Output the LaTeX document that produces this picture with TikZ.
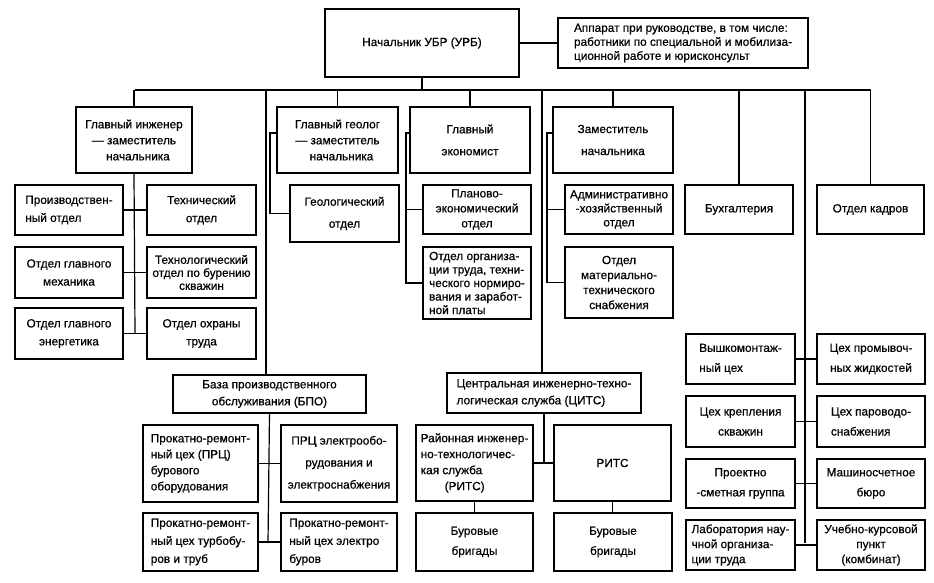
\documentclass[tikz,border=0pt]{standalone}
\usepackage{fontspec}
\setmainfont{Liberation Sans}[FakeBold=0.6]
\newcommand\fs[1]{\fontsize{11.8}{#1}\selectfont}
\tikzset{
  box/.style={draw, line width=1.4pt, inner sep=1pt, align=center,
    font=\fs{14}},
  lft/.style={align=left},
  conn/.style={line width=1.2pt}
}
\newcommand\bx[7][]{\node[box,#1,minimum width={#5-#3},minimum height={#6-#4}] (#2) at ({(#3+#5)/2},{(#4+#6)/2}) {#7};}
\begin{document}
\begin{tikzpicture}[x=1pt,y=-1pt]
\useasboundingbox[fill=white] (0,0) rectangle (934,582);
% top
\bx{top}{325}{9}{519}{77}{Начальник УБР (УРБ)}
\bx[lft]{ap}{558}{18}{808}{68}{Аппарат при руководстве, в том числе:\\ работники по специальной и мобилиза-\\ционной работе и юрисконсульт}
% level 2
\bx[font=\fs{16}]{gi}{76}{107}{192}{173}{Главный инженер\\— заместитель\\\hspace*{8pt}начальника}
\bx[font=\fs{16}]{gg}{277}{107}{398}{173}{Главный геолог\\— заместитель\\\hspace*{8pt}начальника}
\bx[font=\fs{22}]{ec}{410}{107}{530}{173}{Главный\\экономист}
\bx[font=\fs{22}]{zm}{553}{107}{673}{173}{Заместитель\\начальника}
% left cluster
\bx[lft,font=\fs{18}]{po}{15}{185}{123}{235}{Производствен-\\ный отдел}
\bx[font=\fs{18}]{to}{147}{185}{256}{235}{Технический\\отдел}
\bx[font=\fs{18}]{om}{15}{247}{123}{298}{Отдел главного\\механика}
\bx[font=\fs{13}]{tb}{147}{247}{256}{298}{Технологический\\отдел по бурению\\скважин}
\bx[font=\fs{18}]{oe}{15}{308}{123}{359}{Отдел главного\\энергетика}
\bx[font=\fs{18}]{ot}{147}{308}{256}{359}{Отдел охраны\\труда}
% geolog / econ / zam subordinates
\bx[font=\fs{22}]{geo}{290}{185}{399}{242}{Геологический\\отдел}
\bx[font=\fs{15}]{pe}{423}{185}{531}{234}{Планово-\\экономический\\отдел}
\bx[lft,font=\fs{13.5}]{oo}{423}{247}{531}{319}{Отдел организа-\\ции труда, техни-\\ческого нормиро-\\вания и заработ-\\ной платы}
\bx[font=\fs{14}]{ah}{565}{185}{673}{234}{Административно\\-хозяйственный\\отдел}
\bx[font=\fs{15}]{mt}{565}{247}{673}{318}{Отдел\\материально-\\технического\\снабжения}
\bx{bh}{685}{185}{793}{234}{Бухгалтерия}
\bx{kd}{817}{185}{924}{234}{Отдел кадров}
% BPO cluster
\bx[font=\fs{17}]{bpo}{173}{375}{366}{413}{База производственного\\обслуживания (БПО)}
\bx[lft,font=\fs{16}]{p1}{143}{425}{258}{502}{Прокатно-ремонт-\\ный цех (ПРЦ)\\бурового\\оборудования}
\bx[font=\fs{22}]{p2}{281}{425}{397}{502}{ПРЦ электрообо-\\рудования и\\электроснабжения}
\bx[lft,font=\fs{18}]{p3}{143}{513}{258}{571}{Прокатно-ремонт-\\ный цех турбобу-\\ров и труб}
\bx[lft,font=\fs{18}]{p4}{281}{513}{397}{571}{Прокатно-ремонт-\\ный цех электро\\буров}
% CITS cluster
\bx[lft,font=\fs{17}]{cits}{447}{373}{641}{413}{Центральная инженерно-техно-\\логическая служба (ЦИТС)}
\bx[lft,font=\fs{16}]{r1}{416}{425}{533}{501}{Районная инженер-\\но-технологичес-\\кая служба\\\hspace*{24pt}(РИТС)}
\bx{r2}{554}{425}{671}{501}{РИТС}
\bx[font=\fs{20}]{b1}{416}{513}{533}{571}{Буровые\\бригады}
\bx[font=\fs{20}]{b2}{554}{513}{672}{571}{Буровые\\бригады}
% right cluster
\bx[lft,font=\fs{20}]{vm}{686}{334}{795}{384}{Вышкомонтаж-\\ный цех}
\bx[font=\fs{20}]{cp}{817}{334}{925}{384}{Цех промывоч-\\ных жидкостей}
\bx[font=\fs{20}]{ck}{686}{396}{795}{447}{Цех крепления\\скважин}
\bx[lft,font=\fs{20}]{cs}{817}{396}{925}{447}{Цех пароводо-\\снабжения}
\bx[font=\fs{20}]{ps}{686}{459}{795}{508}{Проектно\\-сметная группа}
\bx[font=\fs{20}]{mb}{817}{459}{925}{508}{Машиносчетное\\бюро}
\bx[lft,font=\fs{15}]{lb}{686}{520}{795}{570}{Лаборатория нау-\\чной организа-\\ции труда}
\bx[font=\fs{15}]{uk}{817}{520}{925}{570}{Учебно-курсовой\\пункт\\(комбинат)}
% coordinates
\coordinate (busL) at (135,90);
\coordinate (busR) at (871,90);
\coordinate (giE) at (135,333);
\coordinate (f1) at (270,133);
\coordinate (f2) at (406,133);
\coordinate (f3) at (547,133);
\coordinate (bpoE) at (268,543);
\coordinate (rcol) at (805,90);
\coordinate (rEnd) at (805,543);
\coordinate (bcol) at (266,90);
\coordinate (ccol) at (542,90);
% connectors
\draw[conn] (top.east) -- (ap.west);
\draw[conn] (top.south) -- (top.south |- busL);
\draw[conn] (busL) -- (busR);
\draw[conn] (gi.north) -- (gi.north |- busL);
\draw[conn] (gg.north) -- (gg.north |- busL);
\draw[conn] (ec.north) -- (ec.north |- busL);
\draw[conn] (zm.north) -- (zm.north |- busL);
\draw[conn] (bh.north) -- (bh.north |- busL);
\draw[conn] (kd.north) -- (kd.north |- busL);
\draw[conn] (bcol) -- (bcol |- bpo.north);
\draw[conn] (ccol) -- (ccol |- cits.north);
\draw[conn] (rcol) -- (rEnd);
% left cluster
\draw[conn] (gi.south) -- (giE);
\draw[conn] (po.east) -- (to.west);
\draw[conn] (om.east) -- (tb.west);
\draw[conn] (oe.east) -- (ot.west);
% feeders
\draw[conn] (gg.west |- f1) -- (f1) |- (geo.west);
\draw[conn] (ec.west |- f2) -- (f2) |- (oo.west);
\draw[conn] (f2 |- pe.west) -- (pe.west);
\draw[conn] (zm.west |- f3) -- (f3) |- (mt.west);
\draw[conn] (f3 |- ah.west) -- (ah.west);
% BPO
\draw[conn] (bpo.south) -- (bpoE);
\draw[conn] (p1.east) -- (p2.west);
\draw[conn] (p3.east) -- (p4.west);
% CITS
\draw[conn] (cits.south) -- (cits.south |- r1.east);
\draw[conn] (r1.east) -- (r2.west);
\draw[conn] (r1.south) -- (b1.north);
\draw[conn] (r2.south) -- (r2.south |- b2.north);
% right
\draw[conn] (vm.east) -- (cp.west);
\draw[conn] (ck.east) -- (cs.west);
\draw[conn] (ps.east) -- (mb.west);
\draw[conn] (lb.east) -- (uk.west);
\end{tikzpicture}
\end{document}
